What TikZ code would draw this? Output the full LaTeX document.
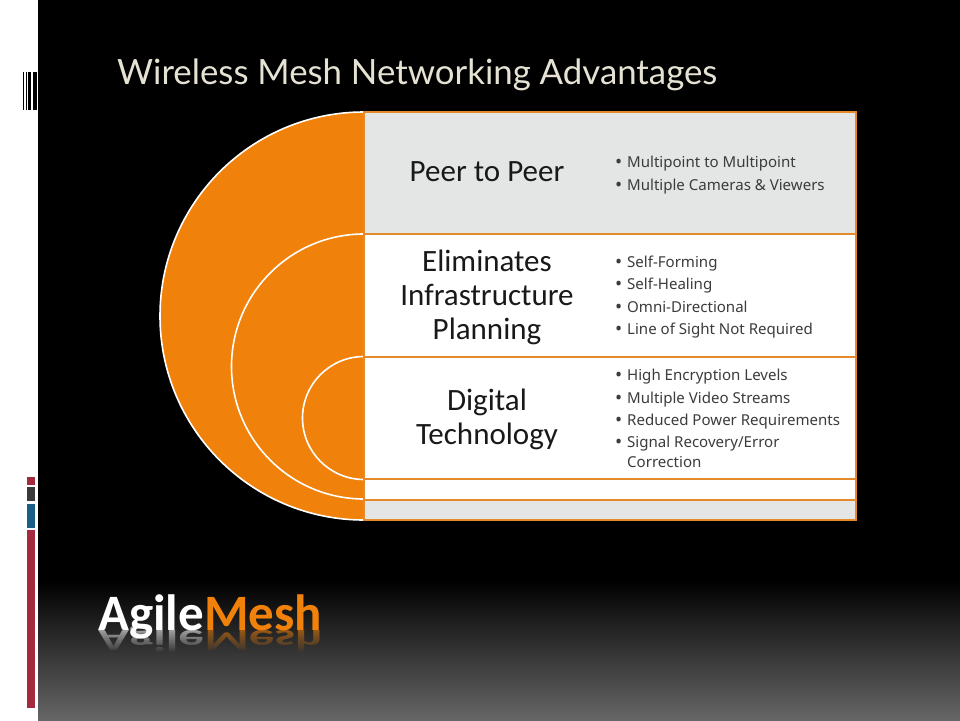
\documentclass[tikz,border=0pt]{standalone}
\usepackage{fontspec}
\setmainfont{Carlito}
\newfontfamily\bulletfont{Noto Sans}
\newfontfamily\titlefont{Lato}
\definecolor{meshorange}{HTML}{F0810A}
\definecolor{rowline}{HTML}{E58A2C}
\definecolor{rowgray}{HTML}{E4E5E5}
\definecolor{barred}{HTML}{A32A3F}
\definecolor{bardark}{HTML}{3A3A3A}
\definecolor{barblue}{HTML}{1C5F85}
\definecolor{titlecol}{HTML}{E6E2D3}
\definecolor{bulletcol}{HTML}{3C3C3C}
\newcommand{\bul}{\makebox[12pt][l]{{\fontsize{19}{19}\selectfont\raisebox{-1pt}{\textbullet}}}}
\tikzset{
  x=1pt,y=-1pt,
  rowbox/.style={draw=rowline,line width=2pt},
  arcline/.style={draw=white,line width=1.6pt},
  headtext/.style={font=\fontsize{31}{34}\selectfont,text=black!90,align=center,inner sep=0pt},
  bullets/.style={font=\bulletfont\fontsize{15.05}{22.4}\selectfont,text=bulletcol,align=left,anchor=north west,inner sep=0pt},
  logo/.style={font=\fontsize{51}{51}\bfseries\selectfont,inner sep=0pt,anchor=base west}
}
\begin{document}
\begin{tikzpicture}
\useasboundingbox (0,0) rectangle (960,720);
\fill[white] (0,0) rectangle (960,720);
\fill[black] (38,0) rectangle (960,580);
\shade[top color=black,bottom color=black!60] (38,580) rectangle (960,720);
% barcode
\foreach \a/\b in {23/24,26/27,28/31,33/37}{\fill[black] (\a,72) rectangle (\b,110);}
% side bars
\fill[barred] (27,477) rectangle (35,485);
\fill[bardark] (27,487) rectangle (35,501);
\fill[barblue] (27,504) rectangle (35,528);
\fill[barred] (27,530) rectangle (35,708);
% title
\node[font=\titlefont\fontsize{34.8}{40}\selectfont,text=titlecol,anchor=base west,inner sep=0pt] (title) at (117,84) {Wireless Mesh Networking Advantages};
% orange half disc
\fill[meshorange] (364,112) arc[start angle=-90,end angle=-270,radius=204] -- cycle;
\draw[arcline] (364,112) arc[start angle=-90,end angle=-270,radius=204];
\draw[arcline] (364,234) arc[start angle=-90,end angle=-270,radius=132.5];
\draw[arcline] (364,356.5) arc[start angle=-90,end angle=-270,radius=61.5];
% rows
\draw[rowbox,fill=rowgray] (364,112) rectangle (856,234);
\draw[rowbox,fill=white] (364,234) rectangle (856,356.5);
\draw[rowbox,fill=white] (364,356.5) rectangle (856,479);
\draw[rowbox,fill=white] (364,479) rectangle (856,499.5);
\draw[rowbox,fill=rowgray] (364,499.5) rectangle (856,519.5);
% headings
\node[headtext] (h1) at (487,172) {Peer to Peer};
\node[headtext] (h2) at (487,297.5) {Eliminates\\Infrastructure\\Planning};
\node[headtext] (h3) at (487,419.5) {Digital\\Technology};
% bullets
\node[bullets] (b1) at (615,156) {\bul Multipoint to Multipoint\\\bul Multiple Cameras \& Viewers};
\node[bullets] (b2) at (615,255.5) {\bul Self-Forming\\\bul Self-Healing\\\bul Omni-Directional\\\bul Line of Sight Not Required};
\node[bullets] (b3) at (615,369) {\bul High Encryption Levels\\\bul Multiple Video Streams\\\bul Reduced Power Requirements\\\bul Signal Recovery/Error\\[-3pt]\hspace*{12pt}Correction};
% logo reflection: squashed mirror image, faded out by bands of the background tone
\node[logo,text=white,opacity=.6,yscale=-0.6] (agileR) at (98,630) {Agile};
\node[logo,text=meshorange,opacity=.6,yscale=-0.6] (meshR) at (agileR.base east) {Mesh};
\foreach \i in {0,...,12}{
  \pgfmathsetmacro{\yy}{630+2*\i}
  \pgfmathsetmacro{\lvl}{100-40*(\yy+1-580)/140}
  \pgfmathsetmacro{\op}{min(1,(\i+1)/12)}
  \fill[black!\lvl,fill opacity=\op] (90,\yy) rectangle (330,\yy+2);
}
% logo
\node[logo,text=white] (agile) at (98,630) {Agile};
\node[logo,text=meshorange] (mesh) at (agile.base east) {Mesh};
\end{tikzpicture}
\end{document}
